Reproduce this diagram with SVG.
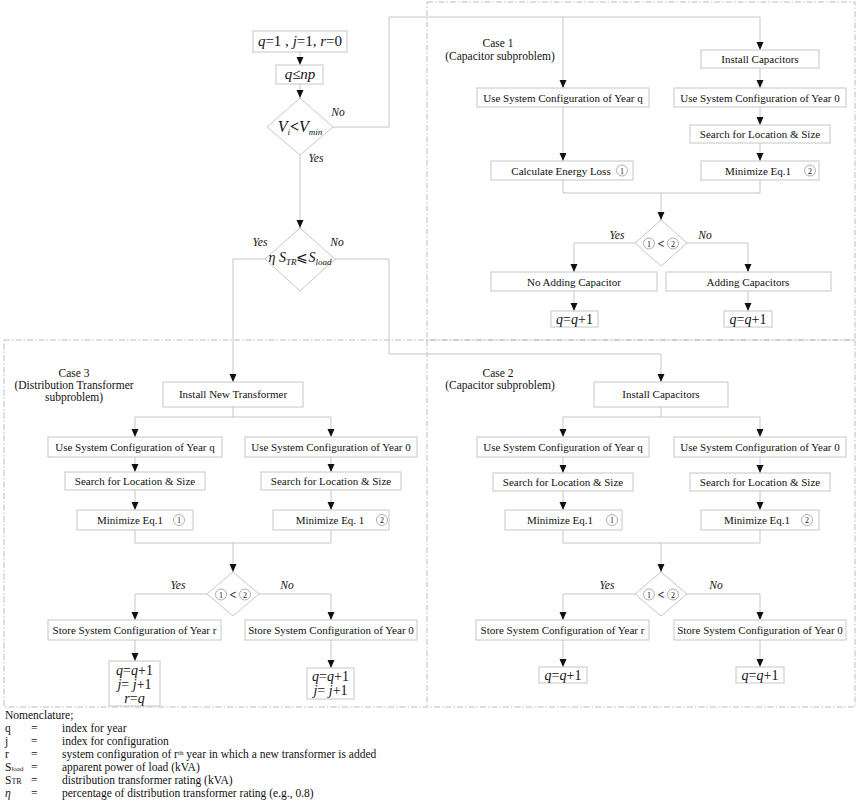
<svg xmlns="http://www.w3.org/2000/svg" width="858" height="804" viewBox="0 0 858 804">
<defs>
<marker id="ah" markerUnits="userSpaceOnUse" markerWidth="8" markerHeight="8" refX="8" refY="3.5" orient="auto"><path d="M0,0 L8,3.5 L0,7 z" fill="#111"/></marker>
<style>
.bx{fill:#fff;stroke:#c6c6c6;stroke-width:1}
.ln{fill:none;stroke:#c6c6c6;stroke-width:1}
.ar{fill:none;stroke:#c6c6c6;stroke-width:1;marker-end:url(#ah)}
.ds{fill:none;stroke:#bdbdbd;stroke-width:1;stroke-dasharray:6 2 1.5 2}
.lb{font-family:"Liberation Serif",serif;font-size:11px;fill:#111;text-anchor:middle}
.cs{font-family:"Liberation Serif",serif;font-size:11.5px;fill:#111;text-anchor:middle}
.yn{font-family:"Liberation Serif",serif;font-size:11.5px;font-style:italic;fill:#111;text-anchor:middle}
.mt{font-family:"Liberation Serif",serif;font-size:15px;fill:#111;text-anchor:middle}
.i{font-style:italic}
.cn circle{fill:#fff;stroke:#9a9a9a;stroke-width:0.8}
.cn text{font-family:"Liberation Serif",serif;font-size:8px;fill:#111;text-anchor:middle}
.nm{font-family:"Liberation Serif",serif;font-size:11.5px;fill:#111}
</style>
</defs>
<rect width="858" height="804" fill="#fff"/>

<g id="regions">
<rect class="ds" x="427" y="2" width="428" height="338"/>
<rect class="ds" x="4" y="340" width="851" height="367"/>
<line class="ds" x1="427" y1="340" x2="427" y2="707"/>
</g>

<g id="connectors">
<path class="ar" d="M300,52 V65"/>
<path class="ar" d="M300,84 V98"/>
<path class="ar" d="M300,155 V228"/>
<path class="ar" d="M333,127 H389 V17 H760 V50"/>
<path class="ar" d="M563,17 V88"/>
<path class="ar" d="M760,68 V88"/>
<path class="ar" d="M760,107 V125"/>
<path class="ar" d="M760,143 V161"/>
<path class="ar" d="M563,107 V161"/>
<path class="ln" d="M563,180 V193 H760 V180"/>
<path class="ar" d="M661,193 V220"/>
<path class="ar" d="M635,243 H574 V272"/>
<path class="ar" d="M687,243 H748 V272"/>
<path class="ar" d="M574,291 V311"/>
<path class="ar" d="M748,291 V311"/>

<path class="ar" d="M265,259 H233 V382"/>
<path class="ar" d="M335,259 H389 V354 H661 V382"/>

<path class="ln" d="M233,407 V417"/>
<path class="ar" d="M135,417 H331 V437"/>
<path class="ar" d="M135,417 V437"/>
<path class="ar" d="M135,457 V472"/>
<path class="ar" d="M331,457 V472"/>
<path class="ar" d="M135,490 V510"/>
<path class="ar" d="M331,490 V510"/>
<path class="ln" d="M135,530 V543 H331 V530"/>
<path class="ar" d="M233,543 V572"/>
<path class="ar" d="M207,594 H135 V620"/>
<path class="ar" d="M259,594 H331 V620"/>
<path class="ar" d="M135,640 V661"/>
<path class="ar" d="M331,640 V668"/>

<path class="ln" d="M661,407 V417"/>
<path class="ar" d="M563,417 H760 V437"/>
<path class="ar" d="M563,417 V437"/>
<path class="ar" d="M563,457 V473"/>
<path class="ar" d="M760,457 V473"/>
<path class="ar" d="M563,491 V510"/>
<path class="ar" d="M760,491 V510"/>
<path class="ln" d="M563,530 V543 H760 V530"/>
<path class="ar" d="M661,543 V572"/>
<path class="ar" d="M635,594 H563 V620"/>
<path class="ar" d="M687,594 H760 V620"/>
<path class="ar" d="M563,640 V667"/>
<path class="ar" d="M760,640 V667"/>
</g>

<g id="labels">
<text class="yn" x="338" y="116">No</text>
<text class="yn" x="316" y="162">Yes</text>
<text class="yn" x="260" y="246">Yes</text>
<text class="yn" x="337" y="246">No</text>
<text class="yn" x="617" y="239">Yes</text>
<text class="yn" x="705" y="239">No</text>
<text class="yn" x="178" y="589">Yes</text>
<text class="yn" x="287" y="589">No</text>
<text class="yn" x="607" y="589">Yes</text>
<text class="yn" x="716" y="589">No</text>
<text class="cs" x="498" y="47">Case 1</text>
<text class="cs" x="500" y="60">(Capacitor subproblem)</text>
<text class="cs" x="74" y="377">Case 3</text>
<text class="cs" x="74" y="389">(Distribution Transformer</text>
<text class="cs" x="74" y="401">subproblem)</text>
<text class="cs" x="498" y="377">Case 2</text>
<text class="cs" x="500" y="389">(Capacitor subproblem)</text>
</g>

<g id="n_init"><rect class="bx" x="253" y="31" width="94" height="21"/>
<text class="mt" x="300" y="46"><tspan class="i">q</tspan>=1 , <tspan class="i">j</tspan>=1, <tspan class="i">r</tspan>=0</text></g>
<g id="n_qnp"><rect class="bx" x="276" y="65" width="47" height="19"/>
<text class="mt" x="300" y="79"><tspan class="i">q</tspan>≤<tspan class="i">np</tspan></text></g>
<g id="d_vmin"><polygon class="bx" points="300,98 333,127 300,155 267,127"/>
<text class="mt" x="300" y="132" style="font-size:16px"><tspan class="i">V</tspan><tspan class="i" font-size="9" dy="3">i</tspan><tspan dy="-3" font-weight="bold">&lt;</tspan><tspan class="i">V</tspan><tspan class="i" font-size="9" dy="3">min</tspan></text></g>
<g id="d_str"><polygon class="bx" points="300,228 335,259 300,291 265,259"/>
<text class="mt" x="300" y="262" style="font-size:14px"><tspan class="i">η</tspan> <tspan class="i">S</tspan><tspan class="i" font-size="9" dy="3">TR</tspan><tspan dy="-3">⩽</tspan><tspan class="i">S</tspan><tspan class="i" font-size="9" dy="3">load</tspan></text></g>

<g id="c1_install"><rect class="bx" x="701" y="50" width="118" height="18"/><text class="lb" x="760" y="63">Install Capacitors</text></g>
<g id="c1_useq"><rect class="bx" x="477" y="88" width="172" height="19"/><text class="lb" x="563" y="101.5">Use System Configuration of Year q</text></g>
<g id="c1_use0"><rect class="bx" x="674" y="88" width="172" height="19"/><text class="lb" x="760" y="101.5">Use System Configuration of Year 0</text></g>
<g id="c1_search"><rect class="bx" x="690" y="125" width="140" height="18"/><text class="lb" x="760" y="138">Search for Location &amp; Size</text></g>
<g id="c1_calc"><rect class="bx" x="491" y="161" width="142" height="19"/><text class="lb" x="561" y="174.5">Calculate Energy Loss</text>
<g class="cn"><circle cx="622" cy="170.5" r="5.5"/><text x="622" y="173.5">1</text></g></g>
<g id="c1_min"><rect class="bx" x="701" y="161" width="118" height="19"/><text class="lb" x="758" y="174.5">Minimize Eq.1</text>
<g class="cn"><circle cx="810" cy="170.5" r="5.5"/><text x="810" y="173.5">2</text></g></g>
<g id="c1_dec"><polygon class="bx" points="661,220 687,243 661,266 635,243"/>
<g class="cn"><circle cx="649" cy="243.5" r="5.5"/><text x="649" y="246.5">1</text><circle cx="673" cy="243.5" r="5.5"/><text x="673" y="246.5">2</text></g>
<text class="lb" x="661" y="247.5" style="font-size:12px;font-weight:bold">&lt;</text></g>
<g id="c1_noadd"><rect class="bx" x="491" y="272" width="166" height="19"/><text class="lb" x="574" y="285.5">No Adding Capacitor</text></g>
<g id="c1_add"><rect class="bx" x="666" y="272" width="165" height="19"/><text class="lb" x="748" y="285.5">Adding Capacitors</text></g>
<g id="c1_q1"><rect class="bx" x="551" y="311" width="47" height="16"/><text class="mt" x="574.5" y="323.5" style="font-size:14px"><tspan class="i">q</tspan>=<tspan class="i">q</tspan>+1</text></g>
<g id="c1_q2"><rect class="bx" x="724" y="311" width="48" height="16"/><text class="mt" x="748" y="323.5" style="font-size:14px"><tspan class="i">q</tspan>=<tspan class="i">q</tspan>+1</text></g>

<g id="c3_install"><rect class="bx" x="163" y="382" width="140" height="25"/><text class="lb" x="233" y="398">Install New Transformer</text></g>
<g id="c3_useq"><rect class="bx" x="48" y="437" width="174" height="20"/><text class="lb" x="135" y="451">Use System Configuration of Year q</text></g>
<g id="c3_use0"><rect class="bx" x="245" y="437" width="172" height="20"/><text class="lb" x="331" y="451">Use System Configuration of Year 0</text></g>
<g id="c3_search1"><rect class="bx" x="65" y="472" width="140" height="18"/><text class="lb" x="135" y="485">Search for Location &amp; Size</text></g>
<g id="c3_search2"><rect class="bx" x="261" y="472" width="140" height="18"/><text class="lb" x="331" y="485">Search for Location &amp; Size</text></g>
<g id="c3_min1"><rect class="bx" x="77" y="510" width="116" height="20"/><text class="lb" x="130" y="524">Minimize Eq.1</text>
<g class="cn"><circle cx="179" cy="520" r="5.5"/><text x="179" y="523">1</text></g></g>
<g id="c3_min2"><rect class="bx" x="273" y="510" width="116" height="20"/><text class="lb" x="330" y="524">Minimize Eq. 1</text>
<g class="cn"><circle cx="382" cy="520" r="5.5"/><text x="382" y="523">2</text></g></g>
<g id="c3_dec"><polygon class="bx" points="233,572 259,594 233,616 207,594"/>
<g class="cn"><circle cx="221" cy="594.5" r="5.5"/><text x="221" y="597.5">1</text><circle cx="245" cy="594.5" r="5.5"/><text x="245" y="597.5">2</text></g>
<text class="lb" x="233" y="598.5" style="font-size:12px;font-weight:bold">&lt;</text></g>
<g id="c3_store_r"><rect class="bx" x="48" y="620" width="173" height="20"/><text class="lb" x="134.5" y="634">Store System Configuration of Year r</text></g>
<g id="c3_store_0"><rect class="bx" x="245" y="620" width="172" height="20"/><text class="lb" x="331" y="634">Store System Configuration of Year 0</text></g>
<g id="c3_upd1"><rect class="bx" x="109" y="661" width="51" height="45"/>
<text class="mt" style="font-size:14px"><tspan x="134.5" y="675"><tspan class="i">q</tspan>=<tspan class="i">q</tspan>+1</tspan><tspan x="134.5" y="689"><tspan class="i">j</tspan>= <tspan class="i">j</tspan>+1</tspan><tspan x="134.5" y="703"><tspan class="i">r</tspan>=<tspan class="i">q</tspan></tspan></text></g>
<g id="c3_upd2"><rect class="bx" x="307" y="668" width="47" height="31"/>
<text class="mt" style="font-size:14px"><tspan x="330.5" y="681"><tspan class="i">q</tspan>=<tspan class="i">q</tspan>+1</tspan><tspan x="330.5" y="695"><tspan class="i">j</tspan>= <tspan class="i">j</tspan>+1</tspan></text></g>

<g id="c2_install"><rect class="bx" x="594" y="382" width="134" height="25"/><text class="lb" x="661" y="398">Install Capacitors</text></g>
<g id="c2_useq"><rect class="bx" x="477" y="437" width="172" height="20"/><text class="lb" x="563" y="451">Use System Configuration of Year q</text></g>
<g id="c2_use0"><rect class="bx" x="674" y="437" width="172" height="20"/><text class="lb" x="760" y="451">Use System Configuration of Year 0</text></g>
<g id="c2_search1"><rect class="bx" x="493" y="473" width="140" height="18"/><text class="lb" x="563" y="486">Search for Location &amp; Size</text></g>
<g id="c2_search2"><rect class="bx" x="690" y="473" width="140" height="18"/><text class="lb" x="760" y="486">Search for Location &amp; Size</text></g>
<g id="c2_min1"><rect class="bx" x="505" y="510" width="117" height="20"/><text class="lb" x="560" y="524">Minimize Eq.1</text>
<g class="cn"><circle cx="612" cy="520" r="5.5"/><text x="612" y="523">1</text></g></g>
<g id="c2_min2"><rect class="bx" x="701" y="510" width="118" height="20"/><text class="lb" x="757" y="524">Minimize Eq.1</text>
<g class="cn"><circle cx="807" cy="520" r="5.5"/><text x="807" y="523">2</text></g></g>
<g id="c2_dec"><polygon class="bx" points="661,572 687,594 661,616 635,594"/>
<g class="cn"><circle cx="649" cy="594.5" r="5.5"/><text x="649" y="597.5">1</text><circle cx="673" cy="594.5" r="5.5"/><text x="673" y="597.5">2</text></g>
<text class="lb" x="661" y="598.5" style="font-size:12px;font-weight:bold">&lt;</text></g>
<g id="c2_store_r"><rect class="bx" x="476" y="620" width="173" height="20"/><text class="lb" x="562.5" y="634">Store System Configuration of Year r</text></g>
<g id="c2_store_0"><rect class="bx" x="674" y="620" width="172" height="20"/><text class="lb" x="760" y="634">Store System Configuration of Year 0</text></g>
<g id="c2_q1"><rect class="bx" x="539" y="667" width="48" height="16"/><text class="mt" x="563" y="679.5" style="font-size:14px"><tspan class="i">q</tspan>=<tspan class="i">q</tspan>+1</text></g>
<g id="c2_q2"><rect class="bx" x="736" y="667" width="48" height="16"/><text class="mt" x="760" y="679.5" style="font-size:14px"><tspan class="i">q</tspan>=<tspan class="i">q</tspan>+1</text></g>

<g id="nomenclature">
<text class="nm" x="5" y="719">Nomenclature;</text>
<text class="nm" x="5" y="732">q</text><text class="nm" x="31" y="732">=</text><text class="nm" x="62" y="732">index for year</text>
<text class="nm" x="5" y="745">j</text><text class="nm" x="31" y="745">=</text><text class="nm" x="62" y="745">index for configuration</text>
<text class="nm" x="5" y="758">r</text><text class="nm" x="31" y="758">=</text><text class="nm" x="62" y="758">system configuration of r<tspan font-size="7" dy="-3">th</tspan><tspan dy="3"> year in  which a new transformer is added</tspan></text>
<text class="nm" x="5" y="771">S<tspan font-size="7">load</tspan></text><text class="nm" x="31" y="771">=</text><text class="nm" x="62" y="771">apparent power of load (kVA)</text>
<text class="nm" x="5" y="784">S<tspan font-size="8">TR</tspan></text><text class="nm" x="31" y="784">=</text><text class="nm" x="62" y="784">distribution transformer rating (kVA)</text>
<text class="nm" x="5" y="797"><tspan class="i">η</tspan></text><text class="nm" x="31" y="797">=</text><text class="nm" x="62" y="797">percentage of distribution transformer rating (e.g., 0.8)</text>
</g>
</svg>
